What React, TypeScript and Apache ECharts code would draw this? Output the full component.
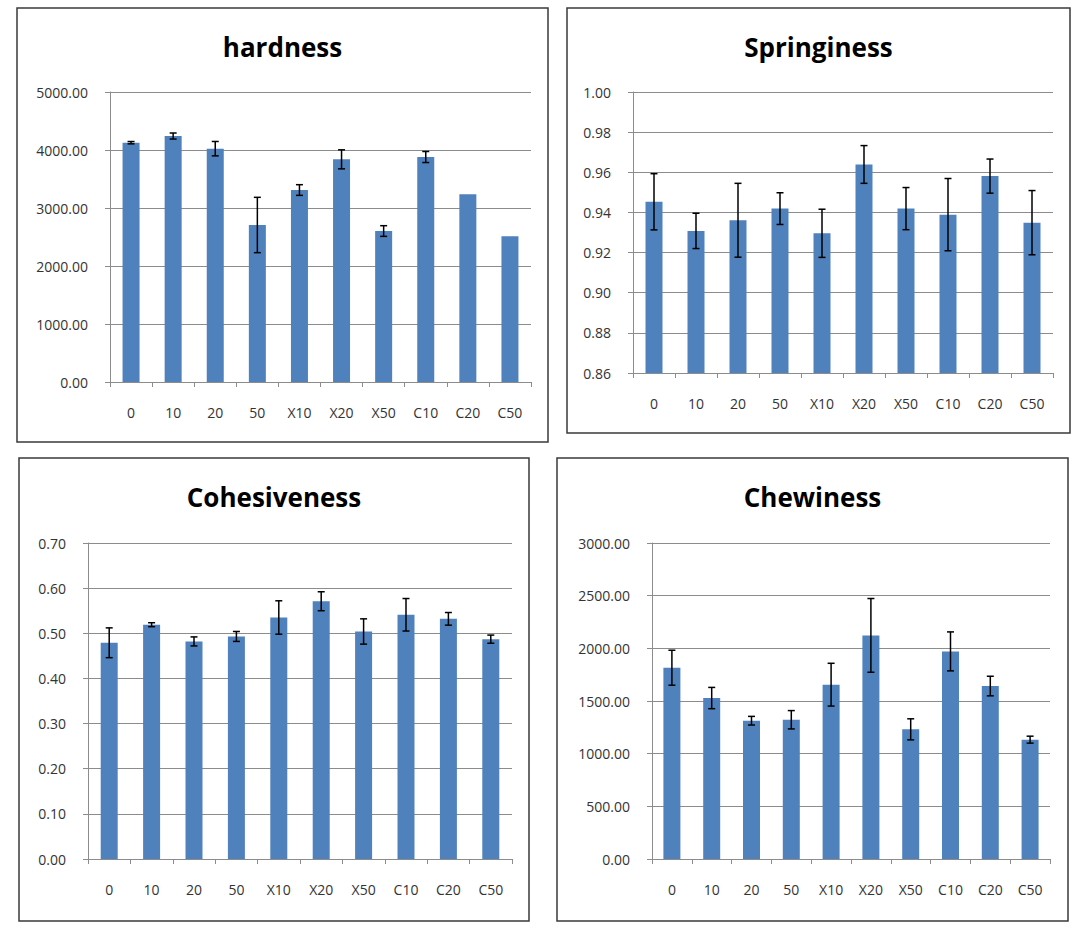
import React, { useEffect, useRef } from "react";
import * as echarts from "echarts";

const categories = ["0", "10", "20", "50", "X10", "X20", "X50", "C10", "C20", "C50"];

const hardness = [4126, 4241, 4023, 2707, 3310, 3839, 2603, 3879, 3236, 2511];
const hardnessErr = [20, 52, 124, 477, 92, 164, 92, 95, 0, 0];

const springiness = [0.9453, 0.9308, 0.9361, 0.9419, 0.9296, 0.9639, 0.9419, 0.9389, 0.9581, 0.9349];
const springinessErr = [0.014, 0.0088, 0.0184, 0.0079, 0.012, 0.0094, 0.0105, 0.018, 0.0085, 0.016];

const cohesiveness = [0.479, 0.519, 0.482, 0.493, 0.535, 0.571, 0.504, 0.541, 0.532, 0.487];
const cohesivenessErr = [0.033, 0.0044, 0.01, 0.011, 0.037, 0.021, 0.028, 0.036, 0.014, 0.009];

const chewiness = [1816, 1528, 1313, 1322, 1655, 2123, 1231, 1971, 1642, 1133];
const chewinessErr = [166, 101, 41, 87, 203, 350, 100, 185, 93, 33];

const titles = ["hardness", "Springiness", "Cohesiveness", "Chewiness"];
const yMins = [0, 0.86, 0, 0];
const yMaxs = [5000, 1.0, 0.7, 3000];
const yIntervals = [1000, 0.02, 0.1, 500];

const W = 1082;
const H = 936;

// layout (page pixels)
const panels = [
  { box: [17, 8, 548, 442], grid: [110, 92, 531, 382] },
  { box: [567, 8, 1070, 433], grid: [633, 92, 1053, 373] },
  { box: [19, 458, 529, 921], grid: [88, 543, 512, 859] },
  { box: [557, 458, 1068, 921], grid: [652, 543, 1050, 859] },
];

const BAR = "#4F81BD";
const GRIDLINE = "#8c8c8c";
const LABEL = "#333333";

export default function App() {
  const ref = useRef<HTMLDivElement>(null);

  useEffect(() => {
    if (!ref.current) return;
    const chart = echarts.init(ref.current, undefined, { renderer: "svg" });

    const values = [hardness, springiness, cohesiveness, chewiness];
    const errs = [hardnessErr, springinessErr, cohesivenessErr, chewinessErr];

    const grids = panels.map((p) => ({
      left: p.grid[0],
      top: p.grid[1],
      right: W - p.grid[2],
      bottom: H - p.grid[3],
      containLabel: false,
    }));

    const xAxes = panels.map((_, i) => ({
      type: "category",
      gridIndex: i,
      data: categories,
      boundaryGap: true,
      axisLine: { show: true, lineStyle: { color: GRIDLINE, width: 1 } },
      axisTick: { show: true, length: 5, lineStyle: { color: GRIDLINE } },
      axisLabel: {
        color: LABEL,
        fontSize: 14,
        fontFamily: "Open Sans",
        margin: 23,
      },
      splitLine: { show: false },
    }));

    const yAxes = panels.map((_, i) => ({
      type: "value",
      gridIndex: i,
      min: yMins[i],
      max: yMaxs[i],
      interval: yIntervals[i],
      axisLine: { show: true, lineStyle: { color: GRIDLINE, width: 1 } },
      axisTick: { show: true, length: 5, lineStyle: { color: GRIDLINE } },
      axisLabel: {
        color: LABEL,
        fontSize: 14,
        fontFamily: "Open Sans",
        margin: 22,
        formatter: (v: number) => v.toFixed(2),
      },
      splitLine: { show: true, lineStyle: { color: GRIDLINE, width: 1 } },
    }));

    const series: any[] = [];
    panels.forEach((_, i) => {
      series.push({
        type: "bar",
        name: titles[i],
        xAxisIndex: i,
        yAxisIndex: i,
        data: values[i],
        barWidth: 17,
        itemStyle: { color: BAR },
        silent: true,
      });
      series.push({
        type: "custom",
        name: titles[i] + " error",
        xAxisIndex: i,
        yAxisIndex: i,
        silent: true,
        z: 5,
        data: values[i].map((v, k) => [k, v - errs[i][k], v + errs[i][k], errs[i][k]]),
        renderItem: (params: any, api: any) => {
          if (api.value(3) <= 0) return null;
          const x = api.value(0);
          const lo = api.coord([x, api.value(1)]);
          const hi = api.coord([x, api.value(2)]);
          const cap = 3.5;
          const style = { stroke: "#000", lineWidth: 1.5 };
          return {
            type: "group",
            children: [
              { type: "line", shape: { x1: lo[0], y1: lo[1], x2: hi[0], y2: hi[1] }, style },
              { type: "line", shape: { x1: hi[0] - cap, y1: hi[1], x2: hi[0] + cap, y2: hi[1] }, style },
              { type: "line", shape: { x1: lo[0] - cap, y1: lo[1], x2: lo[0] + cap, y2: lo[1] }, style },
            ],
          };
        },
      });
    });

    const graphic: any[] = [];
    panels.forEach((p, i) => {
      graphic.push({
        type: "rect",
        shape: { x: p.box[0], y: p.box[1], width: p.box[2] - p.box[0], height: p.box[3] - p.box[1] },
        style: { fill: "none", stroke: "#3a3a3a", lineWidth: 1.5 },
        silent: true,
        z: 0,
      });
      graphic.push({
        type: "text",
        x: (p.box[0] + p.box[2]) / 2,
        y: i < 2 ? 47 : 497,
        style: {
          text: titles[i],
          align: "center",
          verticalAlign: "middle",
          fontSize: 26,
          fontWeight: "bold",
          fontFamily: "Open Sans",
          fill: "#000",
        },
        silent: true,
      });
    });

    chart.setOption({
      animation: false,
      backgroundColor: "#ffffff",
      grid: grids,
      xAxis: xAxes,
      yAxis: yAxes,
      series,
      graphic,
    });

    return () => {
      chart.dispose();
    };
  }, []);

  return (
    <div
      ref={ref}
      style={{ position: "absolute", left: 0, top: 0, width: W, height: H, background: "#fff" }}
    />
  );
}
